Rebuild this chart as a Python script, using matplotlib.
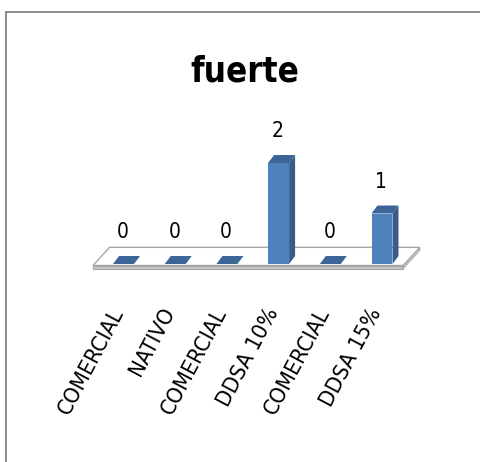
import matplotlib
matplotlib.use("Agg")
import matplotlib.pyplot as plt
from matplotlib.patches import Polygon, Rectangle
from matplotlib.transforms import ScaledTranslation

categories = ["COMERCIAL", "NATIVO", "COMERCIAL", "DDSA 10%", "COMERCIAL", "DDSA 15%"]
values = [0, 0, 0, 2, 0, 1]
title = "fuerte"

plt.rcParams["font.family"] = ["DejaVu Sans"]
plt.rcParams["font.stretch"] = "condensed"

W, H = 480, 462
fig = plt.figure(figsize=(W / 100, H / 100), dpi=100)
fig.patch.set_facecolor("white")

# outer chart border (only top & left visible)
fig.add_artist(Rectangle((6 / W, -0.1), 1.2, 1.1 - 12 / H,
                         transform=fig.transFigure, fill=False,
                         edgecolor="#8c8c8c", linewidth=1.4))

left_px, right_px = 97.65, 407.85
bottom_px, top_px = 264, 137.75
ax = fig.add_axes([left_px / W, (H - bottom_px) / H,
                   (right_px - left_px) / W, (bottom_px - top_px) / H])
n = len(categories)
xs = list(range(n))
ax.set_xlim(-0.5, n - 0.5)
ax.set_ylim(0, 2.5)
for s in ax.spines.values():
    s.set_visible(False)
ax.patch.set_alpha(0)
ax.set_yticks([])

bw = 0.406
dx, dy = 0.116, 0.158

front_c = "#4f81bd"
side_c = "#385d8a"
top_c = "#3c6597"

# floor
fl_front_y = -0.03
fl_band = 0.06
fl_l, fl_r = -0.59, n - 1 + 0.41
fl_dx, fl_dy = 0.32, 0.36
floor_top = Polygon([(fl_l, fl_front_y), (fl_r, fl_front_y),
                     (fl_r + fl_dx, fl_front_y + fl_dy), (fl_l + fl_dx, fl_front_y + fl_dy)],
                    closed=True, facecolor="white", edgecolor="#a6a6a6",
                    linewidth=1.0, clip_on=False, zorder=1)
floor_front = Polygon([(fl_l, fl_front_y - fl_band), (fl_r, fl_front_y - fl_band),
                       (fl_r, fl_front_y), (fl_l, fl_front_y)],
                      closed=True, facecolor="#c8c8c8", edgecolor="#a6a6a6",
                      linewidth=0.8, clip_on=False, zorder=1)
floor_side = Polygon([(fl_r, fl_front_y - fl_band), (fl_r + fl_dx, fl_front_y + fl_dy - fl_band),
                      (fl_r + fl_dx, fl_front_y + fl_dy), (fl_r, fl_front_y)],
                     closed=True, facecolor="#d9d9d9", edgecolor="#a6a6a6",
                     linewidth=0.8, clip_on=False, zorder=1)
ax.add_patch(floor_front)
ax.add_patch(floor_side)
ax.add_patch(floor_top)

# bars
ax.bar(xs, values, width=bw, color=front_c, edgecolor="none", zorder=3)
for x, v in zip(xs, values):
    x0, x1 = x - bw / 2, x + bw / 2
    top = Polygon([(x0, v), (x1, v), (x1 + dx, v + dy), (x0 + dx, v + dy)],
                  closed=True, facecolor=top_c, edgecolor="none", zorder=3)
    ax.add_patch(top)
    if v > 0:
        side = Polygon([(x1, 0), (x1 + dx, dy), (x1 + dx, v + dy), (x1, v)],
                       closed=True, facecolor=side_c, edgecolor="none", zorder=3)
        ax.add_patch(side)
    ax.annotate(str(v), xy=(x, v), xytext=(-1, 32), textcoords="offset pixels",
                ha="center", va="center", fontsize=15, color="black", zorder=4)

# category labels
ax.set_xticks(xs)
ax.set_xticklabels(categories, fontsize=16, rotation=62, ha="right", va="top",
                   rotation_mode="anchor")
ax.tick_params(axis="x", length=0, pad=29)
off = ScaledTranslation(-14 / 100, 0, fig.dpi_scale_trans)
for lab in ax.get_xticklabels():
    lab.set_transform(lab.get_transform() + off)

fig.text(245 / W, 1 - 71 / H, title, ha="center", va="center",
         fontsize=25, fontweight="bold", color="black")

fig.savefig("out.png", dpi=100)
